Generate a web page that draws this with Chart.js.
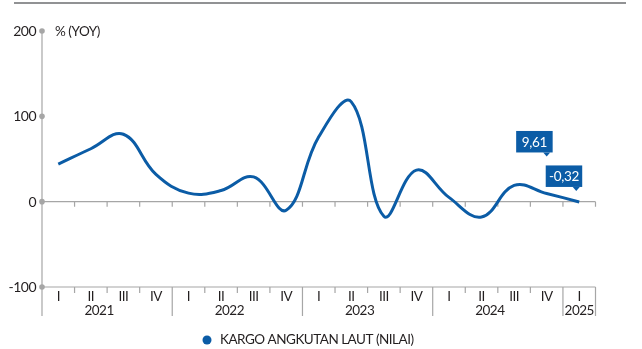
<!DOCTYPE html>
<html>
<head>
<meta charset="utf-8">
<script src="https://cdn.jsdelivr.net/npm/chart.js@4.4.1/dist/chart.umd.min.js"></script>
<style>
  html, body { margin: 0; padding: 0; background: #fff; }
  #wrap { width: 642px; height: 349px; position: relative; }
</style>
</head>
<body>
<div id="wrap"><canvas id="c" width="642" height="349"></canvas></div>
<script>
// ---- data ----
const quarters = ['I','II','III','IV','I','II','III','IV','I','II','III','IV','I','II','III','IV','I'];
const years = ['2021','2021','2021','2021','2022','2022','2022','2022','2023','2023','2023','2023','2024','2024','2024','2024','2025'];
const yearLabels = ['2021','2022','2023','2024','2025'];
const cargoValues = [44, 62, 79, 32, 10, 13, 29, -10, 76, 117, -17, 37, 5, -18, 19, 9.61, -0.32];
const yTicks = [200, 100, 0, -100];
const seriesName = 'KARGO ANGKUTAN LAUT (NILAI)';
const unitLabel = '% (YOY)';
const calloutIndices = [15, 16];
const calloutTexts = ['9,61', '-0,32'];

const BLUE = '#0b5ca6';
const GREY = '#a6a6a6';
const TXT = '#231f20';
const FONT = 'Lato, "Open Sans", sans-serif';

function setSpacing(ctx, v) { if ('letterSpacing' in ctx) ctx.letterSpacing = v; }

const decor = {
  id: 'decor',
  beforeDatasetsDraw(chart) {
    const ctx = chart.ctx;
    const x = chart.scales.x, y = chart.scales.y;
    const left = chart.chartArea.left, right = chart.chartArea.right;
    const step = x.getPixelForValue(1) - x.getPixelForValue(0);
    const bounds = [];
    for (let i = 0; i <= quarters.length; i++) bounds.push(x.getPixelForValue(i) - step / 2);
    const y0 = y.getPixelForValue(0), yb = y.getPixelForValue(-100), yt = y.getPixelForValue(200);
    ctx.save();
    // top rule
    ctx.strokeStyle = '#6d6e70'; ctx.lineWidth = 1.5;
    ctx.beginPath(); ctx.moveTo(14, 3); ctx.lineTo(626, 3); ctx.stroke();
    ctx.strokeStyle = GREY; ctx.lineWidth = 1.2;
    // y axis line
    ctx.beginPath(); ctx.moveTo(left, yt); ctx.lineTo(left, 316); ctx.stroke();
    // zero line with ticks
    ctx.beginPath(); ctx.moveTo(left, y0); ctx.lineTo(right, y0);
    for (let i = 1; i < bounds.length; i++) { ctx.moveTo(bounds[i], y0); ctx.lineTo(bounds[i], y0 + 5); }
    ctx.stroke();
    // bottom line with ticks
    ctx.beginPath(); ctx.moveTo(left, yb); ctx.lineTo(right, yb);
    for (let i = 1; i < bounds.length; i++) {
      const isYear = i === bounds.length - 1 || years[i] !== years[i - 1];
      ctx.moveTo(bounds[i], yb); ctx.lineTo(bounds[i], isYear ? 316 : yb + 6);
    }
    ctx.stroke();
    // dots on y axis
    ctx.fillStyle = GREY;
    yTicks.forEach(v => { ctx.beginPath(); ctx.arc(left, y.getPixelForValue(v), 2.8, 0, Math.PI * 2); ctx.fill(); });
    // y tick labels
    setSpacing(ctx, '-0.5px');
    ctx.fillStyle = TXT; ctx.font = '14px ' + FONT; ctx.textAlign = 'right'; ctx.textBaseline = 'middle';
    yTicks.forEach(v => ctx.fillText(String(v), left - 6, y.getPixelForValue(v) + 0.5));
    // unit label
    ctx.textAlign = 'left';
    ctx.font = '13.5px ' + FONT;
    ctx.fillText(unitLabel, 55, yt + 0.5);
    // quarter labels
    ctx.font = '13.5px ' + FONT; ctx.textAlign = 'center';
    quarters.forEach((q, i) => ctx.fillText(q, x.getPixelForValue(i), yb + 9.5));
    // year labels
    yearLabels.forEach(yr => {
      const idx = years.map((v, i) => v === yr ? i : -1).filter(i => i >= 0);
      let cx;
      if (idx.length >= 4) cx = (x.getPixelForValue(idx[1]) + x.getPixelForValue(idx[2])) / 2 - 8;
      else cx = idx.reduce((s, i) => s + x.getPixelForValue(i), 0) / idx.length;
      ctx.fillText(yr, cx, yb + 24);
    });
    // legend
    ctx.fillStyle = BLUE;
    ctx.beginPath(); ctx.arc(207, 340, 4.5, 0, Math.PI * 2); ctx.fill();
    ctx.fillStyle = TXT; ctx.textAlign = 'left';
    ctx.fillText(seriesName, 220, 340);
    ctx.restore();
  },
  afterDatasetsDraw(chart) {
    const ctx = chart.ctx;
    const meta = chart.getDatasetMeta(0);
    const offsets = [{dx: 6, dy: 41}, {dx: 3, dy: 15}];
    ctx.save();
    setSpacing(ctx, '-0.3px');
    ctx.font = '13.5px ' + FONT;
    calloutIndices.forEach((idx, k) => {
      const pt = meta.data[idx];
      const w = 36.5, h = 21.5;
      const r = pt.x + offsets[k].dx, b = pt.y - offsets[k].dy;
      const l = r - w, t = b - h;
      ctx.fillStyle = BLUE;
      ctx.fillRect(l, t, w, h);
      const tipX = r - 6;
      ctx.beginPath(); ctx.moveTo(tipX - 3.5, b); ctx.lineTo(tipX + 3.5, b); ctx.lineTo(tipX, b + 4); ctx.closePath(); ctx.fill();
      ctx.fillStyle = '#fff'; ctx.textAlign = 'center'; ctx.textBaseline = 'middle';
      ctx.fillText(calloutTexts[k], l + w / 2, t + h / 2 + 0.5);
    });
    ctx.restore();
  }
};

new Chart(document.getElementById('c'), {
  type: 'line',
  data: {
    labels: quarters.map((q, i) => q + ' ' + years[i]),
    datasets: [{
      label: seriesName,
      data: cargoValues,
      borderColor: BLUE,
      borderWidth: 3,
      pointRadius: 0,
      tension: 0.4,
      fill: false
    }]
  },
  options: {
    responsive: false,
    animation: false,
    layout: { padding: { left: 42, top: 31, right: 46.5, bottom: 62 } },
    plugins: { legend: { display: false }, tooltip: { enabled: false } },
    scales: {
      x: { display: false, offset: true },
      y: { display: false, min: -100, max: 200 }
    }
  },
  plugins: [decor]
});
</script>
</body>
</html>
